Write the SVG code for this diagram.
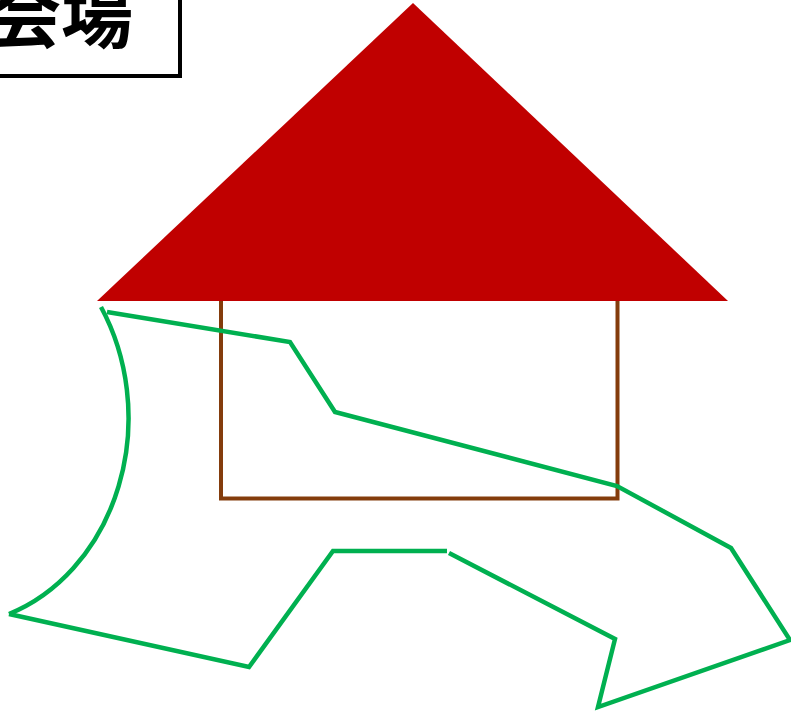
<svg xmlns="http://www.w3.org/2000/svg" width="791" height="715" viewBox="0 0 791 715">
<style>
.g{fill:none;stroke:#00B050;stroke-width:4.5;stroke-linejoin:miter;stroke-linecap:butt}
.t{font-family:"Noto Sans CJK JP","Noto Sans CJK SC",sans-serif;font-weight:bold;font-size:72px;fill:#000}
</style>
<rect width="791" height="715" fill="#fff"/>
<g id="title">
<rect x="-10" y="-10" width="190" height="86" fill="#fff" stroke="#000" stroke-width="4"/>
<text class="t" x="133" y="42" text-anchor="end">会場</text>
</g>
<g id="house">
<rect x="221" y="290" width="396.5" height="208.5" fill="none" stroke="#843C0C" stroke-width="4"/>
<polygon points="413,3 728,301 97,301" fill="#C00000"/>
</g>
<g id="outline">
<path class="g" d="M107,312 L290,342 L335,412 L617,486 L731,548 L790,640 L598,707 L615,639 L449,553"/>
<path class="g" d="M447,551 L333,551 L249,667 L9,614"/>
<path class="g" d="M101,307 A178,207.6 0 0 1 9,614"/>
</g>
</svg>
